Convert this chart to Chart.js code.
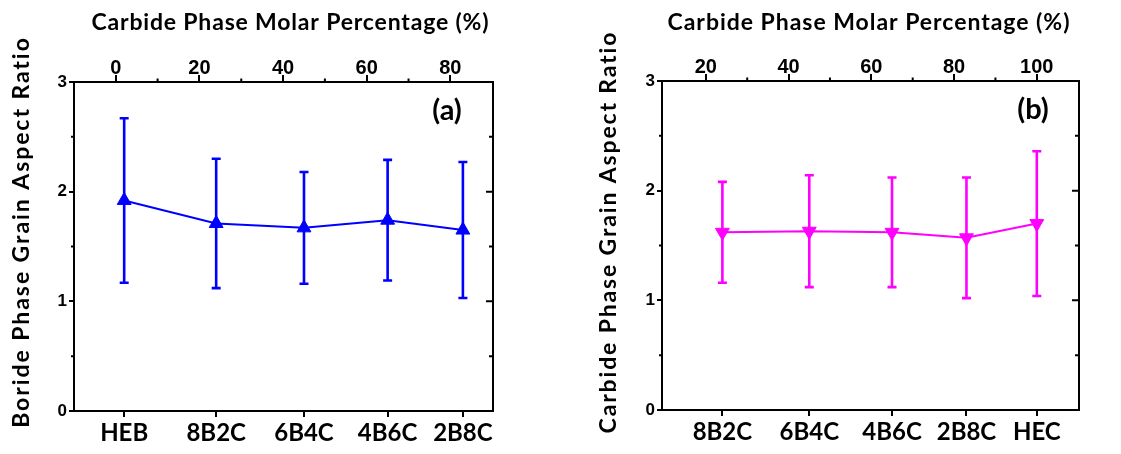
<!DOCTYPE html>
<html><head><meta charset="utf-8">
<script src="https://cdn.jsdelivr.net/npm/chart.js@4/dist/chart.umd.min.js"></script>
<style>
html,body{margin:0;padding:0;background:#fff;}
#wrap{position:relative;width:1121px;height:454px;background:#fff;}
#ca{position:absolute;left:0;top:0;}
#cb{position:absolute;left:560px;top:0;}
</style></head><body>
<div id="wrap"><canvas id="ca" width="560" height="454"></canvas><canvas id="cb" width="561" height="454"></canvas></div>
<script>
// ---- data ----
const categoriesA = ['HEB', '8B2C', '6B4C', '4B6C', '2B8C'];
const molarPctA = [2, 24, 45, 65, 83];
const aspectA = [1.92, 1.71, 1.67, 1.74, 1.65];
const errorA = [0.75, 0.59, 0.51, 0.55, 0.62];

const categoriesB = ['8B2C', '6B4C', '4B6C', '2B8C', 'HEC'];
const molarPctB = [24, 45, 65, 83, 100];
const aspectB = [1.62, 1.63, 1.62, 1.57, 1.70];
const errorB = [0.46, 0.51, 0.50, 0.55, 0.66];

const topTicksA = [0, 20, 40, 60, 80];
const topMinorA = [10, 30, 50, 70];
const topTicksB = [20, 40, 60, 80, 100];
const topMinorB = [30, 50, 70, 90];
const yTicks = [0, 1, 2, 3];
const yMinor = [0.5, 1.5, 2.5];

const topTitle = 'Carbide Phase Molar Percentage (%)';
const yTitleA = 'Boride Phase Grain Aspect Ratio';
const yTitleB = 'Carbide Phase Grain Aspect Ratio';

const TITLE_FONT = 'bold 23px Lato';
// draw text centred at (0,0) spread to a given width with letter spacing
function spreadText(ctx, text, target) {
  ctx.font = TITLE_FONT;
  ctx.letterSpacing = '0px';
  const w0 = ctx.measureText(text).width;
  const sp = Math.max(0, (target - w0) / text.length);
  ctx.letterSpacing = sp.toFixed(2) + 'px';
  ctx.textAlign = 'center';
  ctx.fillText(text, sp / 2, 0);
  ctx.letterSpacing = '0px';
}

// ---- chart builder ----
function makeChart(id, o) {
  const pts = o.pos.map((p, i) => ({x: p, y: o.vals[i]}));
  const deco = {
    id: 'deco' + id,
    beforeDatasetsDraw(chart) {
      const ctx = chart.ctx, xs = chart.scales.x, ys = chart.scales.y;
      ctx.save();
      ctx.strokeStyle = o.color; ctx.lineWidth = 2.6;
      o.pos.forEach((p, i) => {
        const px = xs.getPixelForValue(p);
        const y1 = ys.getPixelForValue(o.vals[i] + o.errs[i]);
        const y2 = ys.getPixelForValue(o.vals[i] - o.errs[i]);
        ctx.beginPath();
        ctx.moveTo(px, y1); ctx.lineTo(px, y2);
        ctx.moveTo(px - 4.5, y1); ctx.lineTo(px + 4.5, y1);
        ctx.moveTo(px - 4.5, y2); ctx.lineTo(px + 4.5, y2);
        ctx.stroke();
      });
      ctx.restore();
    },
    afterDraw(chart) {
      const ctx = chart.ctx, a = chart.chartArea;
      const xt = chart.scales.xTop, ys = chart.scales.y;
      ctx.save();
      ctx.strokeStyle = '#000'; ctx.lineWidth = 2;
      ctx.beginPath();
      o.topMinor.forEach(v => { const px = xt.getPixelForValue(v); ctx.moveTo(px, a.top); ctx.lineTo(px, a.top - 3.5); });
      yMinor.forEach(v => { const py = ys.getPixelForValue(v); ctx.moveTo(a.left, py); ctx.lineTo(a.left - 3, py); });
      yTicks.slice(1, -1).forEach(v => { const py = ys.getPixelForValue(v); ctx.moveTo(a.right, py); ctx.lineTo(a.right - 7, py); });
      yMinor.forEach(v => { const py = ys.getPixelForValue(v); ctx.moveTo(a.right, py); ctx.lineTo(a.right - 4, py); });
      ctx.stroke();
      ctx.fillStyle = '#000';
      ctx.textBaseline = 'middle';
      ctx.save();
      ctx.translate(o.topTitleX, 23);
      spreadText(ctx, topTitle, o.topTitleW);
      ctx.restore();
      ctx.save();
      ctx.translate(o.yTitleX, 233);
      ctx.rotate(-Math.PI / 2);
      spreadText(ctx, o.yTitle, o.yTitleW);
      ctx.restore();
      ctx.textAlign = 'center';
      ctx.font = 'bold 29px Lato';
      ctx.fillText(o.panel, a.right - 46, a.top + 29);
      ctx.restore();
    }
  };
  const frame = {display: true, color: '#000', width: 2};
  return new Chart(document.getElementById(id), {
    type: 'line',
    data: {datasets: [{
      data: pts, borderColor: o.color, backgroundColor: o.color, borderWidth: 2,
      pointStyle: 'triangle', pointRadius: 8, pointRotation: o.rot, pointBorderWidth: 1,
      pointBorderColor: o.color, tension: 0, xAxisID: 'x', yAxisID: 'y'
    }]},
    options: {
      responsive: false, animation: false, devicePixelRatio: 1,
      layout: {padding: 0},
      plugins: {legend: {display: false}, tooltip: {enabled: false}},
      events: [],
      scales: {
        x: {
          type: 'linear', position: 'bottom', min: o.xmin, max: o.xmax,
          afterBuildTicks: s => { s.ticks = o.pos.map(v => ({value: v})); },
          ticks: {autoSkip: false, maxRotation: 0, color: '#000', padding: 2,
            callback: (v, i) => o.cats[i],
            font: {family: 'Lato', weight: 'bold', size: 24}},
          grid: {drawOnChartArea: false, drawTicks: true, tickLength: 6, color: '#000', lineWidth: 2},
          border: frame,
          afterFit: s => { s.height = o.bottomH; }
        },
        xTop: {
          type: 'linear', position: 'top', min: o.xmin, max: o.xmax,
          afterBuildTicks: s => { s.ticks = o.topTicks.map(v => ({value: v})); },
          ticks: {autoSkip: false, maxRotation: 0, color: '#000', padding: -5,
            font: {family: 'Liberation Sans', weight: 'bold', size: 20}},
          grid: {drawOnChartArea: false, drawTicks: true, tickLength: 7, color: '#000', lineWidth: 2},
          border: frame,
          afterFit: s => { s.height = o.topH; }
        },
        y: {
          type: 'linear', position: 'left', min: 0, max: 3,
          afterBuildTicks: s => { s.ticks = yTicks.map(v => ({value: v})); },
          ticks: {color: '#000', padding: 2,
            font: {family: 'Liberation Sans', weight: 'bold', size: 17}},
          grid: {drawOnChartArea: false, drawTicks: true, tickLength: 5, color: '#000', lineWidth: 2},
          border: frame,
          afterFit: s => { s.width = o.leftW; }
        },
        yR: {
          type: 'linear', position: 'right', min: 0, max: 3,
          ticks: {display: false},
          grid: {drawOnChartArea: false, drawTicks: false},
          border: frame,
          afterFit: s => { s.width = o.rightW; }
        }
      }
    },
    plugins: [deco]
  });
}

makeChart('ca', {
  cats: categoriesA, pos: molarPctA, vals: aspectA, errs: errorA,
  color: '#0000ff', rot: 0, xmin: -10, xmax: 90.2,
  topTicks: topTicksA, topMinor: topMinorA,
  leftW: 74, rightW: 67, topH: 82, bottomH: 43,
  topTitleX: 290, topTitleW: 398, yTitleX: 22, yTitleW: 392, yTitle: yTitleA, panel: '(a)'
});
makeChart('cb', {
  cats: categoriesB, pos: molarPctB, vals: aspectB, errs: errorB,
  color: '#ff00ff', rot: 180, xmin: 9.4, xmax: 110.2,
  topTicks: topTicksB, topMinor: topMinorB,
  leftW: 102, rightW: 42, topH: 81, bottomH: 44,
  topTitleX: 868.5 - 560, topTitleW: 403, yTitleX: 49, yTitleW: 403, yTitle: yTitleB, panel: '(b)'
});
</script>
</body></html>
